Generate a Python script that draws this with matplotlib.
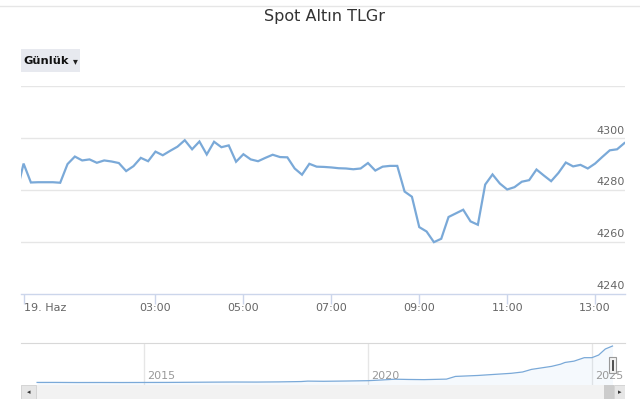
"""
Spot Altın TLGr - günlük grafik ve alttaki navigator şeridi.
"""

import numpy as np
import matplotlib
matplotlib.use("Agg")
import matplotlib.pyplot as plt
from matplotlib.patches import Rectangle
from matplotlib.lines import Line2D

# --- Veri ---------------------------------------------------------------
# 10 dakikalık fiyatlar, ilk değer 18 Haz 23:50, sonra 19 Haz 00:00'dan itibaren
start_minute = -10
step_minutes = 10
prices = [
    4278.0,
    4290.1, 4282.8, 4282.9, 4282.9, 4282.9, 4282.7, 4289.9, 4292.8, 4291.3, 4291.7,
    4290.4, 4291.3, 4290.9, 4290.3, 4287.2, 4289.1, 4292.3, 4291.0, 4294.7, 4293.3,
    4295.0, 4296.6, 4299.1, 4295.6, 4298.6, 4293.6, 4298.5, 4296.4, 4297.1, 4290.8,
    4293.7, 4291.7, 4291.0, 4292.3, 4293.5, 4292.6, 4292.5, 4288.2, 4285.8, 4290.0,
    4288.9, 4288.8, 4288.6, 4288.3, 4288.2, 4287.9, 4288.2, 4290.3, 4287.4, 4288.9,
    4289.2, 4289.2, 4279.3, 4277.3, 4265.6, 4263.9, 4259.8, 4261.1, 4269.5, 4270.9,
    4272.3, 4267.8, 4266.5, 4282.0, 4285.9, 4282.4, 4280.1, 4281.0, 4283.1, 4283.7,
    4287.8, 4285.5, 4283.3, 4286.5, 4290.5, 4289.0, 4289.6, 4288.2, 4290.1, 4292.7,
    4295.2, 4295.6, 4298.0,
]

x_tick_minutes = [0, 180, 300, 420, 540, 660, 780]
x_tick_labels = ["19. Haz", "03:00", "05:00", "07:00", "09:00", "11:00", "13:00"]
y_ticks = [4240, 4260, 4280, 4300]

# navigator: uzun dönem (yıl, TL/gr)
nav_years = [2012.6, 2013.0, 2013.5, 2014.0, 2014.5, 2015.0, 2015.5, 2016.0, 2016.5,
             2017.0, 2017.5, 2018.0, 2018.5, 2018.65, 2019.0, 2019.5, 2020.0, 2020.3,
             2020.6, 2020.9, 2021.25, 2021.75, 2021.95, 2022.45, 2022.9, 2023.2,
             2023.45, 2023.65, 2024.1, 2024.3, 2024.4, 2024.6, 2024.83, 2025.0,
             2025.15, 2025.3, 2025.46]
nav_values = [97, 100, 88, 92, 88, 95, 100, 115, 132, 145, 140, 160, 200, 250, 230,
              260, 300, 380, 470, 440, 420, 480, 790, 900, 1050, 1150, 1300, 1600,
              1950, 2200, 2400, 2550, 2950, 2950, 3250, 3950, 4290]
nav_tick_years = [2015, 2020, 2025]

# --- Yardımcılar ---------------------------------------------------------
W, H = 640, 403
LINE = "#7aa9d8"
GRID = "#e6e6e6"
AXIS = "#ccd6eb"


def box(x0, y0, x1, y1):
    """Piksel kutusunu (üstten ölçülü) figür oranına çevirir."""
    return [x0 / W, 1 - y1 / H, (x1 - x0) / W, (y1 - y0) / H]


fig = plt.figure(figsize=(W / 100, H / 100), dpi=100)
fig.patch.set_facecolor("white")

# üstteki ince çizgi
fig.add_artist(Line2D([0, 1], [1 - 6 / H, 1 - 6 / H], color=GRID, lw=1))

fig.text(324 / W, 1 - 16 / H, "Spot Altın TLGr", ha="center", va="center",
         fontsize=11.5, color="#333333")

# Günlük butonu
fig.add_artist(Rectangle((21 / W, 1 - 72 / H), 59 / W, 23 / H,
                         transform=fig.transFigure, facecolor="#e7e9ef",
                         edgecolor="none"))
fig.text(23 / W, 1 - 61 / H, "Günlük", ha="left", va="center",
         fontsize=8.2, fontweight="bold", color="#111111")
fig.text(75.5 / W, 1 - 61.5 / H, "▾", ha="center", va="center",
         fontsize=7, color="#222222")

# --- Ana grafik ----------------------------------------------------------
ax = fig.add_axes(box(21, 86, 625, 293.5))
minutes = [start_minute + i * step_minutes for i in range(len(prices))]
ax.plot(minutes, prices, color=LINE, lw=1.6, solid_joinstyle="miter")
ax.set_xlim(-3.5, 820.8)
ax.set_ylim(4240, 4320)

for v in [4260, 4280, 4300, 4320]:
    ax.axhline(v, color=GRID, lw=1, zorder=0)
for s in ["top", "left", "right"]:
    ax.spines[s].set_visible(False)
ax.spines["bottom"].set_color(AXIS)
ax.spines["bottom"].set_linewidth(1)

ax.set_yticks([])
ax.set_xticks(x_tick_minutes)
ax.set_xticklabels([])
ax.tick_params(axis="x", length=7, width=1, color=AXIS)

for m, lab in zip(x_tick_minutes, x_tick_labels):
    ax.text(m, -0.07, lab, transform=ax.get_xaxis_transform(),
            ha="left" if m == 0 else "center", va="center",
            fontsize=8, color="#666666")

for v in y_ticks:
    ax.text(0.999, v + 0.9, str(v), transform=ax.get_yaxis_transform(),
            ha="right", va="bottom", fontsize=8, color="#666666")

# --- Navigator -----------------------------------------------------------
nav = fig.add_axes(box(21, 343, 625, 384.5))
nav.set_xlim(2012.24, 2025.74)
nav.set_ylim(-140, 4640)
nav.fill_between(nav_years, nav_values, -140, color="#7cb5ec", alpha=0.07, lw=0)
nav.plot(nav_years, nav_values, color=LINE, lw=0.9)
for yr in nav_tick_years:
    nav.axvline(yr, color=GRID, lw=1, zorder=0)
    nav.text(yr + 0.07, 0.2, str(yr), transform=nav.get_xaxis_transform(),
             ha="left", va="center", fontsize=8, color="#999999")
for s in ["left", "right", "bottom"]:
    nav.spines[s].set_visible(False)
nav.spines["top"].set_color("#d8d8d8")
nav.set_xticks([])
nav.set_yticks([])

# tutamak
nav.add_patch(Rectangle((2025.38, 0.27), 0.16, 0.4, transform=nav.get_xaxis_transform(),
                        facecolor="#f2f2f2", edgecolor="#999999", lw=0.8, zorder=5))
for dx in (2025.44, 2025.48):
    nav.add_line(Line2D([dx, dx], [0.36, 0.58], transform=nav.get_xaxis_transform(),
                        color="#333333", lw=0.6, zorder=6))

# --- Kaydırma çubuğu ------------------------------------------------------
sb = fig.add_axes(box(21, 385, 625, 399))
sb.set_xlim(21, 625)
sb.set_ylim(0, 1)
sb.axis("off")
sb.add_patch(Rectangle((21, 0), 604, 1, facecolor="#f2f2f2", edgecolor="none"))
sb.add_patch(Rectangle((21, 0), 15, 1, facecolor="#e6e6e6", edgecolor="#cccccc", lw=0.5))
sb.add_patch(Rectangle((604, 0), 10, 1, facecolor="#cccccc", edgecolor="none"))
sb.add_patch(Rectangle((614, 0), 11, 1, facecolor="#e6e6e6", edgecolor="#cccccc", lw=0.5))
sb.text(28.5, 0.5, "◂", ha="center", va="center", fontsize=5, color="#333333")
sb.text(619.5, 0.5, "▸", ha="center", va="center", fontsize=5, color="#333333")

fig.savefig("out.png", dpi=100)
